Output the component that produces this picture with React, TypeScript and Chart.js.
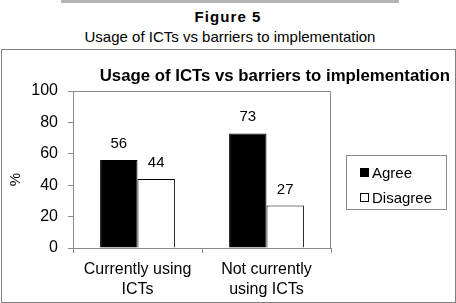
import React, { useEffect, useRef } from "react";
import { Chart, registerables } from "chart.js";

Chart.register(...registerables);

// ---- data ----
const categories: string[][] = [
  ["Currently using", "ICTs"],
  ["Not currently", "using ICTs"],
];
const seriesNames: string[] = ["Agree", "Disagree"];
const agreeValues: number[] = [56, 73];
const disagreeValues: number[] = [44, 27];
const yTicks: number[] = [0, 20, 40, 60, 80, 100];
const figureLabel = "Figure 5";
const subTitle = "Usage of ICTs vs barriers to implementation";
const chartTitle = "Usage of ICTs vs barriers to implementation";
const yAxisTitle = "%";

// ---- styles ----
const FONT = '"Liberation Sans", Arial, Helvetica, sans-serif';
const GRAY = "#8a8a8a";
const seriesFill = ["#000000", "#ffffff"];

const plotBorder = {
  id: "plotBorder",
  beforeDatasetsDraw(chart: any) {
    const { ctx, chartArea: a } = chart;
    const l = Math.round(a.left) + 0.5;
    const t = Math.round(a.top) + 0.5;
    const r = Math.round(a.right) - 0.5;
    const b = Math.round(a.bottom) + 0.5;
    ctx.save();
    ctx.strokeStyle = GRAY;
    ctx.lineWidth = 1;
    ctx.beginPath();
    ctx.moveTo(l, b);
    ctx.lineTo(l, t);
    ctx.lineTo(r, t);
    ctx.lineTo(r, b);
    ctx.stroke();
    ctx.restore();
  },
};

const valueLabels = {
  id: "valueLabels",
  afterDatasetsDraw(chart: any) {
    const { ctx } = chart;
    ctx.save();
    ctx.fillStyle = "#000";
    ctx.font = `15px ${FONT}`;
    ctx.textAlign = "center";
    ctx.textBaseline = "alphabetic";
    chart.data.datasets.forEach((ds: any, i: number) => {
      const meta = chart.getDatasetMeta(i);
      meta.data.forEach((el: any, j: number) => {
        ctx.fillText(String(ds.data[j]), el.x, el.y - 12);
      });
    });
    ctx.restore();
  },
};

const titleAndLegend = {
  id: "titleAndLegend",
  afterDraw(chart: any) {
    const { ctx, chartArea: a } = chart;
    ctx.save();
    // chart title
    ctx.fillStyle = "#000";
    ctx.font = `bold 16.8px ${FONT}`;
    ctx.textAlign = "right";
    ctx.textBaseline = "alphabetic";
    ctx.fillText(chartTitle, chart.width - 6, a.top - 10);

    // y axis title
    ctx.save();
    ctx.translate(a.left - 57.5, (a.top + a.bottom) / 2 + 10);
    ctx.rotate(-Math.PI / 2);
    ctx.font = `15px ${FONT}`;
    ctx.textAlign = "center";
    ctx.textBaseline = "middle";
    ctx.fillText(yAxisTitle, 0, 0);
    ctx.restore();

    // legend box
    const bx = Math.round(a.right) + 15 + 0.5;
    const by = Math.round(a.top) + 64 + 0.5;
    const bw = 100;
    const bh = 54;
    ctx.strokeStyle = GRAY;
    ctx.lineWidth = 1;
    ctx.strokeRect(bx, by, bw, bh);
    ctx.font = `15px ${FONT}`;
    ctx.textAlign = "left";
    ctx.textBaseline = "middle";
    chart.data.datasets.forEach((ds: any, i: number) => {
      const cy = by + 17 + i * 25;
      const mx = bx + 13.5;
      ctx.fillStyle = ds.backgroundColor;
      ctx.fillRect(mx, cy - 4.5, 9, 9);
      ctx.strokeStyle = "#000";
      ctx.strokeRect(mx + 0.5, cy - 4, 8, 8);
      ctx.fillStyle = "#000";
      ctx.fillText(ds.label, bx + 25.5, cy + 1);
    });
    ctx.restore();
  },
};

export default function App() {
  const canvasRef = useRef<HTMLCanvasElement | null>(null);

  useEffect(() => {
    if (!canvasRef.current) return;
    const chart = new Chart(canvasRef.current, {
      type: "bar",
      data: {
        labels: categories,
        datasets: [
          {
            label: seriesNames[0],
            data: agreeValues,
            backgroundColor: seriesFill[0],
            borderColor: "#000",
            borderWidth: 1,
            categoryPercentage: 0.58,
            barPercentage: 1,
          },
          {
            label: seriesNames[1],
            data: disagreeValues,
            backgroundColor: seriesFill[1],
            borderColor: "#000",
            borderWidth: 1,
            categoryPercentage: 0.58,
            barPercentage: 1,
          },
        ],
      },
      options: {
        responsive: false,
        animation: false,
        events: [],
        layout: { padding: { left: 5, top: 91, right: 125, bottom: 3 } },
        plugins: {
          legend: { display: false },
          title: { display: false },
          tooltip: { enabled: false },
        },
        scales: {
          x: {
            afterFit: (s: any) => {
              s.height = 52;
            },
            grid: {
              offset: true,
              drawOnChartArea: false,
              drawTicks: true,
              tickLength: 5,
              color: GRAY,
            },
            border: { display: true, color: GRAY },
            ticks: {
              color: "#000",
              font: { family: FONT, size: 16, lineHeight: 1.25 },
              padding: 7,
              maxRotation: 0,
              autoSkip: false,
            },
          },
          y: {
            min: 0,
            max: 100,
            afterBuildTicks: (s: any) => {
              s.ticks = yTicks.map((v) => ({ value: v }));
            },
            afterFit: (s: any) => {
              s.width = 68;
            },
            grid: {
              drawOnChartArea: false,
              drawTicks: true,
              tickLength: 5,
              color: GRAY,
            },
            border: { display: true, color: GRAY },
            ticks: {
              color: "#000",
              font: { family: FONT, size: 16 },
              padding: 10,
            },
          },
        },
      },
      plugins: [plotBorder, valueLabels, titleAndLegend],
    });
    return () => chart.destroy();
  }, []);

  return (
    <div
      style={{
        position: "fixed",
        left: 0,
        top: 0,
        width: 456,
        height: 303,
        background: "#fff",
        overflow: "hidden",
        fontFamily: FONT,
      }}
    >
      <div
        style={{
          position: "absolute",
          left: 61,
          top: 0,
          width: 338,
          height: 3,
          background: "#b4b4b4",
        }}
      />
      <div
        style={{
          position: "absolute",
          left: 0,
          top: 8,
          width: 456,
          textAlign: "center",
          fontSize: 15,
          lineHeight: "18px",
          fontWeight: "bold",
          letterSpacing: "1.1px",
          color: "#000",
        }}
      >
        {figureLabel}
      </div>
      <div
        style={{
          position: "absolute",
          left: 2,
          top: 28,
          width: 456,
          textAlign: "center",
          fontSize: 15,
          lineHeight: "18px",
          color: "#000",
        }}
      >
        {subTitle}
      </div>
      <div
        style={{
          position: "absolute",
          left: 1,
          top: 49,
          width: 455,
          height: 254,
          boxSizing: "border-box",
          border: "1px solid #808080",
        }}
      />
      <canvas
        ref={canvasRef}
        width={456}
        height={303}
        style={{ position: "absolute", left: 0, top: 0, width: 456, height: 303 }}
      />
    </div>
  );
}
